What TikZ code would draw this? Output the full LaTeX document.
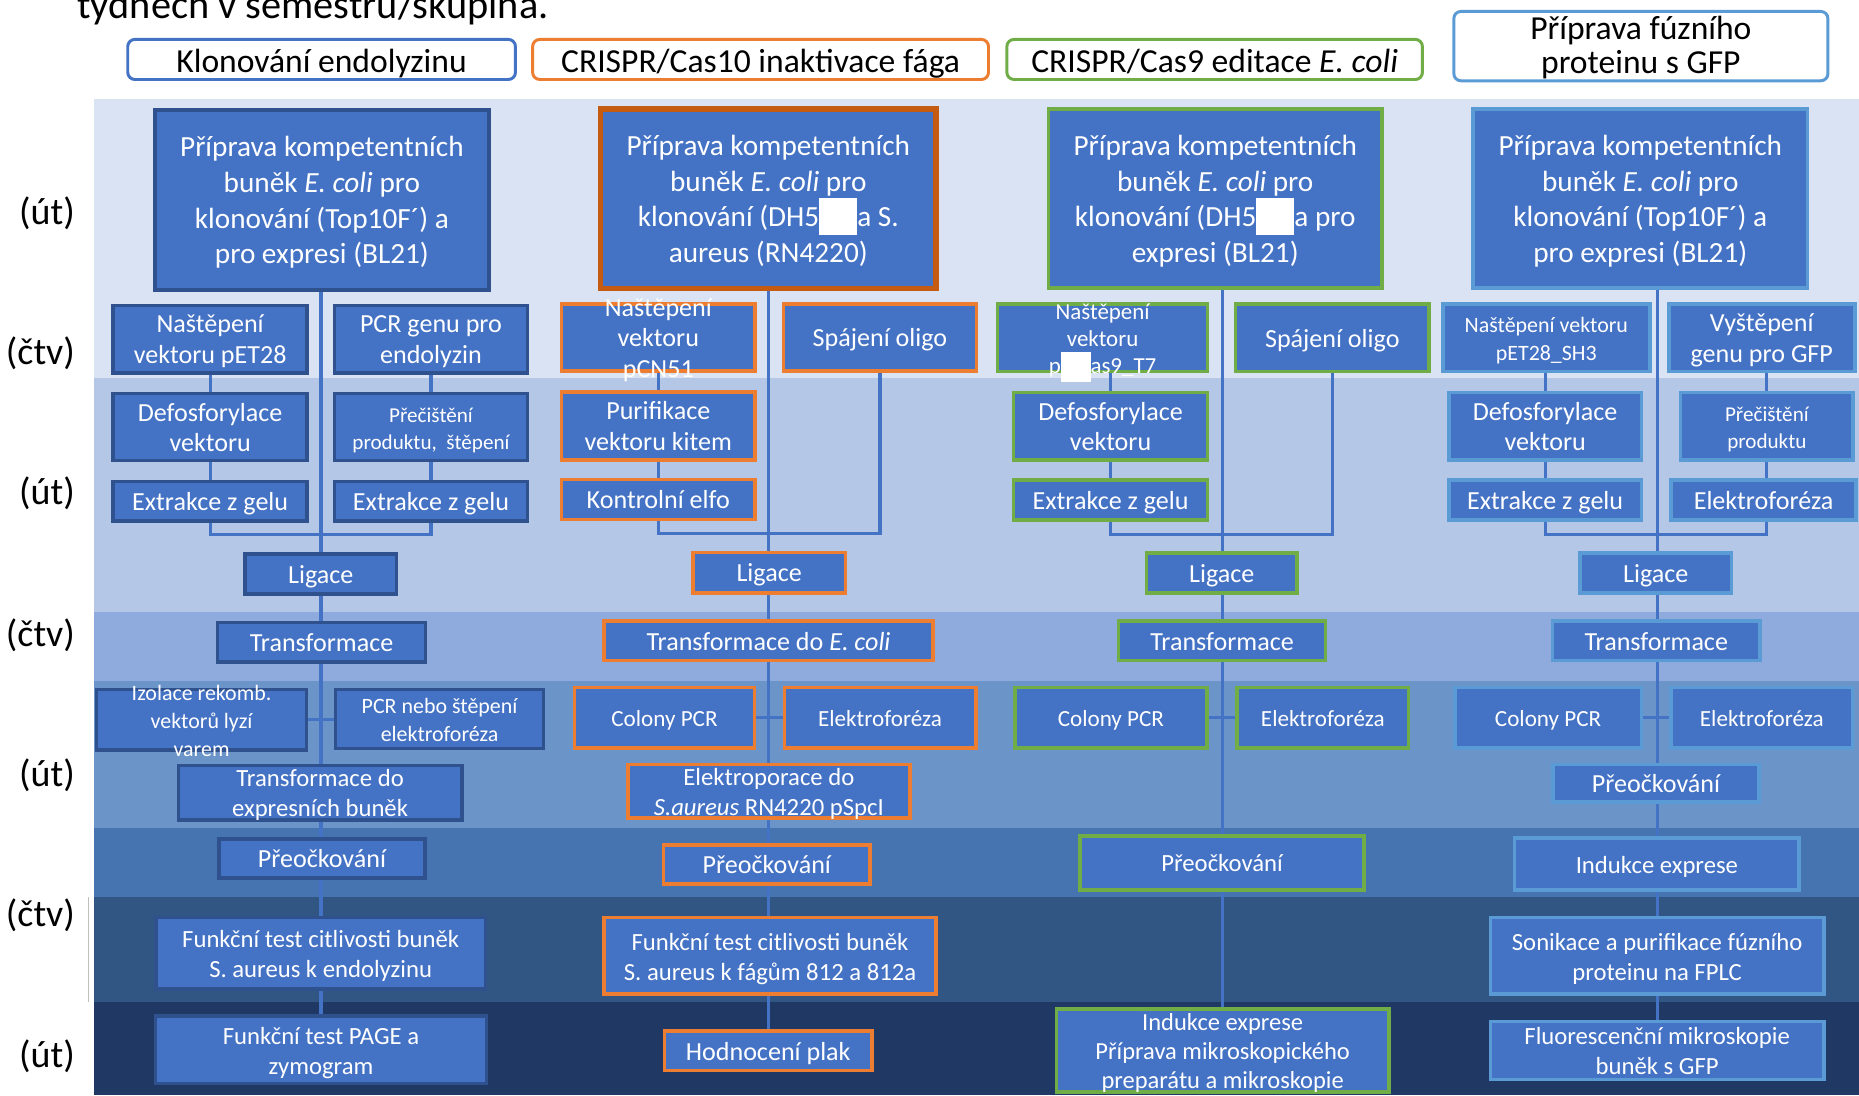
\documentclass[tikz,border=0pt]{standalone}
\usepackage{fontspec}
\setmainfont{Carlito}
\usetikzlibrary{calc}
\definecolor{boxfill}{HTML}{4472C4}
\definecolor{c1line}{HTML}{2F528F}
\definecolor{c2line}{HTML}{ED7D31}
\definecolor{c2dark}{HTML}{C55A11}
\definecolor{c3line}{HTML}{70AD47}
\definecolor{c4line}{HTML}{5B9BD5}
\definecolor{bandA}{HTML}{DAE3F3}
\definecolor{bandB}{HTML}{B4C7E7}
\definecolor{bandC}{HTML}{8FAADC}
\definecolor{bandD}{HTML}{6B95C9}
\definecolor{bandE}{HTML}{4574B0}
\definecolor{bandF}{HTML}{315684}
\definecolor{bandG}{HTML}{203864}
\pgfdeclarelayer{bands}
\pgfdeclarelayer{lines}
\pgfsetlayers{bands,lines,main}
\tikzset{
  box/.style={rectangle, fill=boxfill, line width=1.8pt, inner sep=0pt},
  c1/.style={draw=c1line}, c2/.style={draw=c2line},
  c2big/.style={draw=c2dark, line width=2.6pt},
  c3/.style={draw=c3line}, c4/.style={draw=c4line},
  txt/.style={text=white, align=center, inner sep=0pt, yshift=-1.6pt},
  fbig/.style={font=\fontsize{14.8}{18}\selectfont},
  fstd/.style={font=\fontsize{13.2}{15.6}\selectfont},
  fmid/.style={font=\fontsize{12.5}{15.2}\selectfont},
  fmidb/.style={font=\fontsize{12.4}{14.7}\selectfont},
  fsm/.style={font=\fontsize{11.7}{14}\selectfont},
  fsmb/.style={font=\fontsize{11.1}{14.1}\selectfont},
  fsmc/.style={font=\fontsize{11.6}{13.8}\selectfont},
  fxs/.style={font=\fontsize{11.1}{14.4}\selectfont},
  ftiny/.style={font=\fontsize{10.7}{13.8}\selectfont},
  conn/.style={draw=boxfill, line width=1.6pt},
  hdr/.style={rectangle, rounded corners=3.6pt, fill=white, line width=1.5pt, inner sep=0pt},
  htxt/.style={text=black, align=center, inner sep=0pt, font=\fontsize{17}{16}\selectfont},
  day/.style={anchor=base east, inner sep=0pt, font=\fontsize{19.2}{23}\selectfont},
}
% box: name, x1, y1, x2, y2, border style, font style, text
\newcommand{\bx}[8]{%
  \node[box,#6,minimum width={(#4-#2)*0.6pt-1.8pt},minimum height={(#5-#3)*0.6pt-1.8pt}] (#1) at ({(#2+#4)/2},{(#3+#5)/2}) {};
  \node[txt,#7] (#1-t) at (#1.center) {\strut#8\strut};
}
\newcommand{\wbig}{\rule[-0.28em]{1.3em}{1.25em}}
\newcommand{\wsmall}{\rule[-0.36em]{1.29em}{1.29em}}
\begin{document}
\begin{tikzpicture}[x=0.6pt,y=-0.6pt]
\useasboundingbox (0,0) rectangle (1568,924);
\begin{pgfonlayer}{bands}
\fill[white] (0,0) rectangle (1568,924);
\fill[bandA] (79,83.5) rectangle (1568,319);
\fill[bandB] (79,319) rectangle (1568,516);
\fill[bandC] (79,516) rectangle (1568,574.5);
\fill[bandD] (79,574.5) rectangle (1568,698);
\fill[bandE] (79,698) rectangle (1568,757);
\fill[bandF] (79,757) rectangle (1568,845.5);
\fill[bandG] (79,845.5) rectangle (1568,924);
\draw[black!25, line width=0.5pt] (75,757) -- (75,845);
\end{pgfonlayer}

% top text
\node[anchor=base west, inner sep=0pt, font=\fontsize{20.4}{24}\selectfont] (toptext) at (65,15.5) {týdnech v semestru/skupina.};

% headers
\node[hdr,draw=boxfill,minimum width={(436-106.5)*0.6pt-1.5pt},minimum height={(68.3-32)*0.6pt-1.5pt}] (h1) at ({(106.5+436)/2},{(32+68.3)/2}) {};
\node[htxt] (h1-t) at (271.25,55.3) {\strut Klonování endolyzinu\strut};
\node[hdr,draw=c2line,minimum width={(835-448)*0.6pt-1.5pt},minimum height={(68.3-32)*0.6pt-1.5pt}] (h2) at ({(448+835)/2},{(32+68.3)/2}) {};
\node[htxt] (h2-t) at (641.5,55.3) {\strut CRISPR/Cas10 inaktivace fága\strut};
\node[hdr,draw=c3line,minimum width={(1201-848)*0.6pt-1.5pt},minimum height={(68.3-32)*0.6pt-1.5pt}] (h3) at ({(848+1201)/2},{(32+68.3)/2}) {};
\node[htxt] (h3-t) at (1024.5,55.3) {\strut CRISPR/Cas9 editace \textit{E. coli}\strut};
\node[hdr,draw=c4line,minimum width={(1543-1225)*0.6pt-1.5pt},minimum height={(69.4-8.4)*0.6pt-1.5pt}] (h4) at ({(1225+1543)/2},{(8.4+69.4)/2}) {};
\node[htxt] (h4-t) at (1384,41.9) {\strut Příprava fúzního\\proteinu s GFP\strut};

% day labels
\node[day] (day1) at (63.5,189.5) {(út)};
\node[day] (day2) at (63.5,307.5) {(čtv)};
\node[day] (day3) at (63.5,425.5) {(út)};
\node[day] (day4) at (63.5,545.5) {(čtv)};
\node[day] (day5) at (63.5,663.5) {(út)};
\node[day] (day6) at (63.5,781.5) {(čtv)};
\node[day] (day7) at (63.5,900.5) {(út)};

% column 1
\bx{big1}{129}{91.5}{414}{246}{c1}{fbig}{Příprava kompetentních\\buněk \textit{E. coli} pro\\klonování (Top10F´) a\\pro expresi (BL21)}
\bx{n1}{94}{256}{260.5}{316}{c1}{fstd}{Naštěpení\\vektoru pET28}
\bx{p1}{280.5}{256}{446.5}{316}{c1}{fstd}{PCR genu pro\\endolyzin}
\bx{d1}{94}{330.5}{260.5}{390}{c1}{fstd}{Defosforylace\\vektoru}
\bx{c1}{280.5}{330.5}{446.5}{390}{c1}{ftiny}{Přečištění\\produktu,\ \ štěpení}
\bx{e1a}{94}{404.5}{260.5}{441}{c1}{fstd}{Extrakce z gelu}
\bx{e1b}{280.5}{404.5}{446.5}{441}{c1}{fstd}{Extrakce z gelu}
\bx{l1}{205}{466}{336}{502.5}{c1}{fstd}{Ligace}
\bx{t1}{182}{523.5}{360.5}{560}{c1}{fstd}{Transformace}
\bx{iz1}{80}{580}{260}{634}{c1}{fsmb}{Izolace rekomb.\\vektorů lyzí\\varem}
\bx{pn1}{281.5}{580}{460}{633}{c1}{fsmb}{PCR nebo štěpení\\elektroforéza}
\bx{te1}{149}{644}{391}{693}{c1}{fmid}{Transformace do\\expresních buněk}
\bx{pr1}{183}{706}{360}{742}{c1}{fstd}{Přeočkování}
\bx{ft1}{130}{772.5}{411}{835.5}{c1}{fmid}{Funkční test citlivosti buněk\\S. aureus k endolyzinu}
\bx{pg1}{129.5}{855.5}{412}{915.5}{c1}{fmid}{Funkční test PAGE a\\zymogram}

% column 2
\bx{big2}{505}{90.5}{791}{244.5}{c2big}{fbig}{Příprava kompetentních\\buněk \textit{E. coli} pro\\klonování (DH5\wbig a S.\\aureus (RN4220)}
\bx{n2}{472}{255}{638.5}{314.5}{c2}{fstd}{Naštěpení\\vektoru\\pCN51}
\bx{s2}{659.5}{255}{825}{314.5}{c2}{fstd}{Spájení oligo}
\bx{u2}{472}{329}{638.5}{389.5}{c2}{fstd}{Purifikace\\vektoru kitem}
\bx{k2}{472}{403}{638.5}{439.5}{c2}{fstd}{Kontrolní elfo}
\bx{l2}{583}{464.5}{714.5}{501.5}{c2}{fstd}{Ligace}
\bx{t2}{508}{522.5}{788.5}{558.5}{c2}{fstd}{Transformace do \textit{E. coli}}
\bx{cp2}{483}{578.5}{638}{632.5}{c2}{fsm}{Colony PCR}
\bx{el2}{660}{578.5}{824.5}{632.5}{c2}{fsm}{Elektroforéza}
\bx{ep2}{528}{643.5}{769}{691.5}{c2}{fmid}{Elektroporace do\\\textit{S.aureus} RN4220 pSpcI}
\bx{pr2}{558}{711}{735.5}{747}{c2}{fstd}{Přeočkování}
\bx{ft2}{508}{772.5}{791}{840}{c2}{fmid}{Funkční test citlivosti buněk\\S. aureus k fágům 812 a 812a}
\bx{h2}{559}{868}{737}{904.5}{c2}{fstd}{Hodnocení plak}

% column 3
\bx{big3}{883}{90.5}{1167}{244.5}{c3}{fbig}{Příprava kompetentních\\buněk \textit{E. coli} pro\\klonování (DH5\wbig a pro\\expresi (BL21)}
\bx{n3}{840}{255}{1020}{315}{c3}{fsmc}{Naštěpení\\vektoru\\p\wsmall as9\_T7}
\bx{s3}{1040.5}{255}{1207}{315}{c3}{fstd}{Spájení oligo}
\bx{d3}{853.5}{329.5}{1020}{389.5}{c3}{fstd}{Defosforylace\\vektoru}
\bx{e3}{853.5}{403.5}{1020}{440}{c3}{fstd}{Extrakce z gelu}
\bx{l3}{965.5}{465}{1095.5}{501.5}{c3}{fstd}{Ligace}
\bx{t3}{942}{522.5}{1119.5}{558.5}{c3}{fstd}{Transformace}
\bx{cp3}{854.5}{578.5}{1019.5}{632.5}{c3}{fsm}{Colony PCR}
\bx{el3}{1042}{578.5}{1189.5}{632.5}{c3}{fsm}{Elektroforéza}
\bx{pr3}{909.5}{703.5}{1152}{752}{c3}{fmid}{Přeočkování}
\bx{in3}{889.5}{849.5}{1173}{922.5}{c3}{fmidb}{Indukce exprese\\Příprava mikroskopického\\preparátu a mikroskopie}

% column 4
\bx{big4}{1241}{90.5}{1526}{244.5}{c4}{fbig}{Příprava kompetentních\\buněk \textit{E. coli} pro\\klonování (Top10F´) a\\pro expresi (BL21)}
\bx{n4}{1215.5}{255}{1393}{315}{c4}{fxs}{Naštěpení vektoru\\pET28\_SH3}
\bx{v4}{1406}{255}{1566}{315}{c4}{fstd}{Vyštěpení\\genu pro GFP}
\bx{d4}{1220.5}{329.5}{1386}{389.5}{c4}{fstd}{Defosforylace\\vektoru}
\bx{p4}{1416}{329.5}{1564.5}{389.5}{c4}{ftiny}{Přečištění\\produktu}
\bx{e4}{1220.5}{403.5}{1386}{440}{c4}{fstd}{Extrakce z gelu}
\bx{el4}{1408}{403.5}{1567}{440}{c4}{fstd}{Elektroforéza}
\bx{l4}{1331}{465}{1462}{501.5}{c4}{fstd}{Ligace}
\bx{t4}{1308}{522.5}{1486}{558.5}{c4}{fstd}{Transformace}
\bx{cp4}{1225.5}{578.5}{1386}{632.5}{c4}{fsm}{Colony PCR}
\bx{ef4}{1408}{578.5}{1564}{632.5}{c4}{fsm}{Elektroforéza}
\bx{pr4}{1308.5}{643.5}{1485}{678}{c4}{fstd}{Přeočkování}
\bx{in4}{1276}{705.5}{1519}{752}{c4}{fmid}{Indukce exprese}
\bx{so4}{1255.5}{772.5}{1540}{840}{c4}{fmid}{Sonikace a purifikace fúzního\\proteinu na FPLC}
\bx{fl4}{1255.5}{860}{1540}{912}{c4}{fmid}{Fluorescenční mikroskopie\\buněk s GFP}

% connectors
\begin{pgfonlayer}{lines}
\draw[conn] (big1.south -| pg1.north) -- (pg1.north);
\draw[conn] (big2.south -| h2.north) -- (h2.north);
\draw[conn] (big3.south -| in3.north) -- (in3.north);
\draw[conn] (big4.south -| fl4.north) -- (fl4.north);
% column 1 branches
\draw[conn] (d1.north |- n1.south) -- (d1.north);
\draw[conn] (d1.south) -- (e1a.north);
\draw[conn] (c1.north |- p1.south) -- (c1.north);
\draw[conn] (c1.south) -- (e1b.north);
\draw[conn] (e1a.south) -- ++(0,10) -| (e1b.south);
\draw[conn] (iz1.east) -- (iz1.east -| pn1.west);
% column 2 branches
\draw[conn] (u2.north |- n2.south) -- (u2.north);
\draw[conn] (u2.south) -- (k2.north);
\draw[conn] (k2.south) -- ++(0,10.5) -| (s2.south);
\draw[conn] (cp2.east) -- (cp2.east -| el2.west);
% column 3 branches
\draw[conn] (d3.north |- n3.south) -- (d3.north);
\draw[conn] (d3.south) -- (e3.north);
\draw[conn] (e3.south) -- ++(0,10.5) -| (s3.south);
\draw[conn] (cp3.east) -- (cp3.east -| el3.west);
% column 4 branches
\draw[conn] (d4.north |- n4.south) -- (d4.north);
\draw[conn] (d4.south) -- (e4.north);
\draw[conn] (p4.north |- v4.south) -- (p4.north);
\draw[conn] (p4.south) -- (p4.south |- el4.north);
\draw[conn] (e4.south) -- ++(0,10.5) -| (p4.south |- el4.south);
\draw[conn] (cp4.east) -- (cp4.east -| ef4.west);
\end{pgfonlayer}
\end{tikzpicture}
\end{document}
